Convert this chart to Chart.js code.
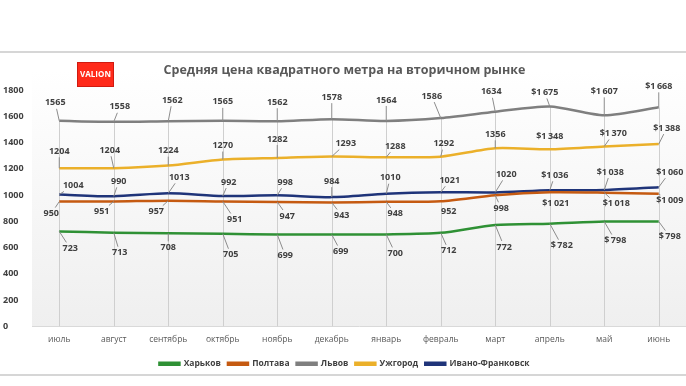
<!DOCTYPE html>
<html><head><meta charset="utf-8">
<script src="https://cdn.jsdelivr.net/npm/chart.js@4/dist/chart.umd.min.js"></script>
<style>html,body{margin:0;padding:0;background:#fff;}#wrap{width:686px;height:386px;position:relative;}</style>
</head><body><div id="wrap"><canvas id="c"></canvas></div>
<script>
const months = ['июль','август','сентябрь','октябрь','ноябрь','декабрь','январь','февраль','март','апрель','май','июнь'];
const seriesNames = ['Харьков','Полтава','Львов','Ужгород','Ивано-Франковск'];
const kharkiv = [723,713,708,705,699,699,700,712,772,782,798,798];
const poltava = [950,951,957,951,947,943,948,952,998,1021,1018,1009];
const lviv = [1565,1558,1562,1565,1562,1578,1564,1586,1634,1675,1607,1668];
const uzhgorod = [1204,1204,1224,1270,1282,1293,1288,1292,1356,1348,1370,1388];
const ivanoFrankivsk = [1004,990,1013,992,998,984,1010,1021,1020,1036,1038,1060];
const yTicks = [0,200,400,600,800,1000,1200,1400,1600,1800];
const dollarFrom = 9; // labels from this month on are shown with "$"

// label placement (style, not data): pixel offsets from each point
const labelDx = [
  [11,6,0,8,8,9,9,8,9,12,11,11],
  [-8,-12,-12,12,10,10,9,8,6,6,12,11],
  [-4,6,4,0,0,0,0,-9,-4,-5,0,0],
  [0,-4,0,0,0,14,9,3,0,0,9,8],
  [14,5,11,6,8,0,4,9,11,5,6,11]
];
const labelDy = [
  [17,20,14,21,21,17,19,18,22,22,19,15],
  [12,10,11,18,14,13,12,10,13,11,11,7],
  [-18,-15,-21,-19,-19,-22,-21,-22,-20,-14,-24,-21],
  [-17,-18,-15,-14,-19,-13,-11,-13,-14,-13,-13,-16],
  [-9,-15,-16,-14,-13,-16,-16,-12,-18,-15,-18,-15]
];
const colors = ['#2f9135','#c55a11','#7f7f7f','#ebb02a','#1f3479'];
const seriesData = [kharkiv, poltava, lviv, uzhgorod, ivanoFrankivsk];

function fmt(v, i){
  if (i < dollarFrom) return String(v);
  if (v >= 1000) { const r = String(v % 1000).padStart(3,'0'); return '$' + Math.floor(v/1000) + '\u2009' + r; }
  return '$\u2009' + v;
}

const bgPlugin = {
  id:'bg',
  beforeDraw(chart){
    const {ctx, chartArea:a} = chart;
    ctx.save();
    ctx.fillStyle = '#ffffff';
    ctx.fillRect(0,0,chart.width,chart.height);
    const g = ctx.createLinearGradient(0,a.top-20,0,a.bottom);
    g.addColorStop(0,'#ffffff');
    g.addColorStop(1,'#efefef');
    ctx.fillStyle = g;
    ctx.fillRect(a.left,a.top-20,a.right-a.left,a.bottom-a.top+20);
    ctx.strokeStyle = '#d6d6d6';
    ctx.lineWidth = 2;
    ctx.beginPath(); ctx.moveTo(0,52); ctx.lineTo(chart.width,52); ctx.stroke();
    ctx.beginPath(); ctx.moveTo(0,375); ctx.lineTo(chart.width,375); ctx.stroke();
    // logo
    ctx.fillStyle = '#ff2a1a';
    ctx.fillRect(77,62,37,25);
    ctx.strokeStyle = '#d01a10'; ctx.lineWidth = 1;
    ctx.strokeRect(77.5,62.5,36,24);
    ctx.fillStyle = '#ffffff';
    ctx.font = 'bold 8px "Open Sans"';
    ctx.textAlign = 'center'; ctx.textBaseline = 'middle';
    ctx.fillText('VALION', 95.5, 75);
    ctx.restore();
  },
  beforeDatasetsDraw(chart){
    const {ctx, chartArea:a, scales:{x,y}} = chart;
    ctx.save();
    ctx.strokeStyle = '#cfcfcf';
    ctx.lineWidth = 1;
    months.forEach((m,i)=>{
      const px = Math.round(x.getPixelForValue(i))+0.5;
      const top = Math.min(...seriesData.map(s=>y.getPixelForValue(s[i])));
      ctx.beginPath(); ctx.moveTo(px, top); ctx.lineTo(px, a.bottom); ctx.stroke();
    });
    ctx.restore();
  },
  afterDatasetsDraw(chart){
    const {ctx, scales:{x,y}} = chart;
    ctx.save();
    ctx.font = 'bold 9px "Open Sans"';
    ctx.textAlign = 'center'; ctx.textBaseline = 'middle';
    seriesData.forEach((s,k)=>{
      s.forEach((v,i)=>{
        const px = x.getPixelForValue(i), py = y.getPixelForValue(v);
        const lx = px + labelDx[k][i], ly = py + labelDy[k][i];
        const t = fmt(v,i);
        const w = ctx.measureText(t).width/2 + 1, h = 6;
        const dx = lx-px, dy = ly-py;
        const d = Math.hypot(dx,dy);
        if (d > 13) {
          const sc = Math.min(w/Math.abs(dx||1e-6), h/Math.abs(dy||1e-6));
          const ex = lx - dx*Math.min(sc,1), ey = ly - dy*Math.min(sc,1);
          ctx.strokeStyle = '#8c8c8c'; ctx.lineWidth = 1;
          ctx.beginPath(); ctx.moveTo(px,py); ctx.lineTo(ex,ey); ctx.stroke();
        }
        ctx.fillStyle = '#404040';
        ctx.fillText(t, lx, ly);
      });
    });
    ctx.restore();
  }
};

new Chart(document.getElementById('c'), {
  type:'line',
  data:{
    labels: months,
    datasets: seriesNames.map((n,k)=>({
      label:n, data:seriesData[k], borderColor:colors[k], backgroundColor:colors[k],
      borderWidth:2.5, pointRadius:0, tension:0.25, fill:false
    }))
  },
  options:{
    responsive:true, maintainAspectRatio:false, animation:false,
    layout:{padding:{top:62,left:3,right:0,bottom:8}},
    plugins:{
      title:{display:true, text:'Средняя цена квадратного метра на вторичном рынке',
        color:'#595959', font:{family:'"Open Sans"', size:12.5, weight:'bold'}, padding:{top:1,bottom:12}},
      legend:{position:'bottom', labels:{boxWidth:20, boxHeight:2, color:'#404040', padding:7,
        font:{family:'"Open Sans"', size:8.5, weight:'bold'}}},
      tooltip:{enabled:false}
    },
    scales:{
      x:{offset:true, grid:{display:false, drawTicks:false}, border:{color:'#d9d9d9', width:1},
        ticks:{color:'#595959', font:{family:'"Open Sans"', size:8.5}, padding:8, maxRotation:0}},
      y:{min:0, max:1800, grid:{display:false, drawTicks:false}, border:{display:false},
        afterBuildTicks(s){ s.ticks = yTicks.map(v=>({value:v})); },
        afterFit(s){ s.width = 29; },
        ticks:{color:'#404040', crossAlign:'far', padding:4, callback:(v)=>String(v),
          font:{family:'"Open Sans"', size:9, weight:'bold'}}}
    }
  },
  plugins:[bgPlugin]
});
</script></body></html>
